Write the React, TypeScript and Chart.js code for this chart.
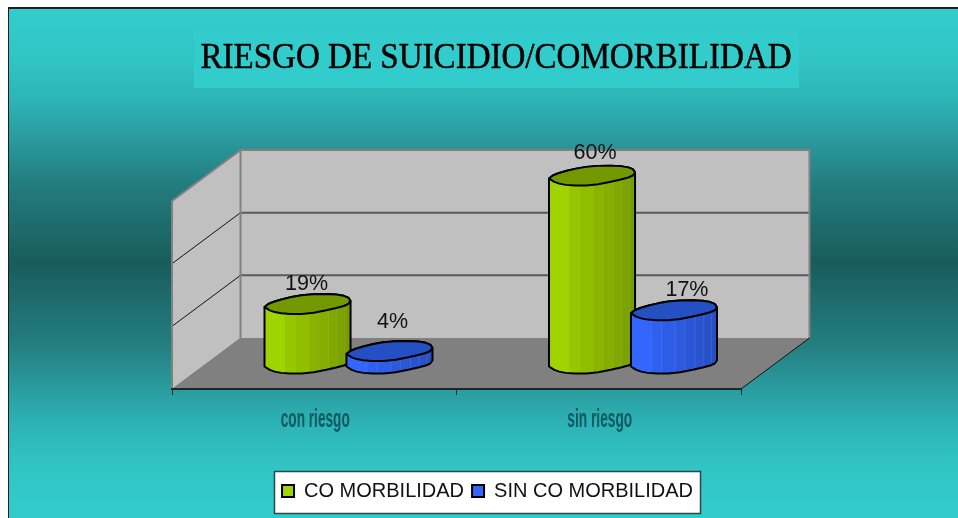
import React, { useEffect, useRef } from "react";
import { Chart, registerables } from "chart.js";

Chart.register(...registerables);

const titleText = "RIESGO DE SUICIDIO/COMORBILIDAD";
const categories = ["con riesgo", "sin riesgo"];
const seriesNames = ["CO MORBILIDAD", "SIN CO MORBILIDAD"];
const coMorbilidad = [19, 60];
const sinCoMorbilidad = [4, 17];
const yTicks = { min: 0, max: 60, stepSize: 20 };

const labelNudgeX = [[-1, 3], [3, 13]];
const labelNudgeY = [[-20, -22], [-29, -20]];
const categoryLabelWidths = [69, 65];
const DEPTH_X = 68.5;
const DEPTH_Y = -51;

const sideShades = [
  { light: [160, 212, 0], dark: [115, 152, 0], top: "#739900" },
  { light: [51, 102, 255], dark: [38, 78, 190], top: "#2550c4" },
];
const stripStops = [0, 0.23, 0.35, 0.51, 0.62, 0.74, 0.84, 0.93, 1];
const rawUpper = [[-43, 3], [-38, -1], [-21, -6], [-1, -9.5], [25, -10], [40, -7.5], [43, -3]];
const rawLower = [[-43, 3], [-36, 7.5], [-23, 10], [0, 10], [25, 5], [40, 1], [43, -3]];

function chaikin(pts: number[][]) {
  const out = [pts[0]];
  for (let i = 0; i < pts.length - 1; i++) {
    const [a, b] = [pts[i], pts[i + 1]];
    out.push([a[0] * 0.75 + b[0] * 0.25, a[1] * 0.75 + b[1] * 0.25]);
    out.push([a[0] * 0.25 + b[0] * 0.75, a[1] * 0.25 + b[1] * 0.75]);
  }
  out.push(pts[pts.length - 1]);
  return out;
}
const upperRim = chaikin(rawUpper);
const lowerRim = chaikin(rawLower);

function poly(ctx: CanvasRenderingContext2D, pts: number[][]) {
  ctx.beginPath();
  pts.forEach((p, i) => (i ? ctx.lineTo(p[0], p[1]) : ctx.moveTo(p[0], p[1])));
  ctx.closePath();
}

function drawCylinder(ctx: CanvasRenderingContext2D, cx: number, yTop: number, yBase: number, w: number, s: number) {
  const k = w / 86;
  const shade = sideShades[s];
  const at = (p: number[], y: number) => [cx + p[0] * k, y + p[1]];
  const body = [
    ...upperRim.map((p) => at(p, yTop)),
    ...lowerRim.slice().reverse().map((p) => at(p, yBase)),
  ];
  const top = [
    ...upperRim.map((p) => at(p, yTop)),
    ...lowerRim.slice(1, -1).reverse().map((p) => at(p, yTop)),
  ];
  ctx.save();
  ctx.lineJoin = "round";
  ctx.save();
  poly(ctx, body);
  ctx.clip();
  const left = cx - w / 2;
  for (let i = 0; i < stripStops.length - 1; i++) {
    const t = stripStops[i];
    const c = shade.light.map((v, j) => Math.round(v + (shade.dark[j] - v) * t));
    ctx.fillStyle = `rgb(${c.join(",")})`;
    ctx.fillRect(left + t * w, yTop - 20, (stripStops[i + 1] - t) * w + 1, yBase - yTop + 40);
    if (i) {
      ctx.fillStyle = "rgba(255,255,255,0.1)";
      ctx.fillRect(left + t * w, yTop - 20, 1, yBase - yTop + 40);
    }
  }
  ctx.restore();
  ctx.strokeStyle = "#000";
  ctx.lineWidth = 2;
  poly(ctx, body);
  ctx.stroke();
  poly(ctx, top);
  ctx.fillStyle = shade.top;
  ctx.fill();
  ctx.stroke();
  ctx.restore();
}

function squeezedText(ctx: CanvasRenderingContext2D, text: string, cx: number, baseline: number, targetWidth: number, stroke = 0) {
  const natural = ctx.measureText(text).width;
  ctx.save();
  ctx.translate(cx, baseline);
  ctx.scale(targetWidth / natural, 1);
  ctx.textAlign = "center";
  ctx.textBaseline = "alphabetic";
  ctx.fillText(text, 0, 0);
  if (stroke) {
    ctx.lineWidth = stroke;
    ctx.strokeText(text, 0, 0);
  }
  ctx.restore();
}

const scene = {
  id: "scene",
  afterLayout(chart: any) {
    const lg = chart.legend;
    lg.left = 274; lg.right = 701; lg.top = 473; lg.bottom = 514;
  },
  beforeDraw(chart: any) {
    const { ctx, width, height, chartArea: a, scales } = chart;
    ctx.save();
    ctx.fillStyle = "#fff";
    ctx.fillRect(0, 0, width, height);
    const g = ctx.createLinearGradient(0, 8, 0, 518);
    const stops: [number, string][] = [
      [8, "#33cccc"], [60, "#31c4c5"], [100, "#2db4b6"], [140, "#2a9a9d"], [185, "#237c7e"], [263, "#1a5c5c"],
      [341, "#237c7e"], [386, "#2a9a9d"], [426, "#2db4b6"], [466, "#31c4c5"], [518, "#33cccc"],
    ];
    stops.forEach(([y, c]) => g.addColorStop((y - 8) / 510, c));
    ctx.fillStyle = "#1a1f1f";
    ctx.fillRect(8, 7, width - 8, height - 7);
    ctx.fillStyle = g;
    ctx.fillRect(9, 9, width - 9, height - 9);
    ctx.fillStyle = "#33cccc";
    ctx.fillRect(194, 30, 605, 58);
    ctx.fillStyle = "#000";
    ctx.strokeStyle = "#000";
    ctx.font = "36px 'Liberation Serif'";
    squeezedText(ctx, titleText, 496, 68, 591, 0.5);
    ctx.fillStyle = "#fff";
    ctx.strokeStyle = "#2a4a4a";
    ctx.lineWidth = 1.5;
    ctx.fillRect(274.5, 471.5, 426, 42);
    ctx.strokeRect(274.5, 471.5, 426, 42);

    const bl = a.left, br = a.right, yb = a.bottom, yt = a.top;
    const dx = DEPTH_X, dy = DEPTH_Y;
    ctx.fillStyle = "#c0c0c0";
    ctx.fillRect(bl + dx, yt + dy, br - bl, yb - yt);
    poly(ctx, [[bl, yb], [bl, yt], [bl + dx, yt + dy], [bl + dx, yb + dy]]);
    ctx.fill();
    poly(ctx, [[bl, yb], [br, yb], [br + dx, yb + dy], [bl + dx, yb + dy]]);
    ctx.fillStyle = "#808080";
    ctx.fill();
    scales.y.ticks.forEach((t: any) => {
      if (t.value === yTicks.min || t.value === yTicks.max) return;
      const y = scales.y.getPixelForValue(t.value);
      ctx.strokeStyle = "#111";
      ctx.lineWidth = 1;
      ctx.beginPath();
      ctx.moveTo(bl, y);
      ctx.lineTo(bl + dx, y + dy);
      ctx.stroke();
      ctx.strokeStyle = "#5a5a5a";
      ctx.lineWidth = 2;
      ctx.beginPath();
      ctx.moveTo(bl + dx, y + dy);
      ctx.lineTo(br + dx, y + dy);
      ctx.stroke();
    });
    ctx.strokeStyle = "#808080";
    ctx.lineWidth = 2;
    ctx.beginPath();
    ctx.moveTo(bl, yb);
    ctx.lineTo(bl, yt);
    ctx.lineTo(bl + dx, yt + dy);
    ctx.lineTo(br + dx, yt + dy);
    ctx.lineTo(br + dx, yb + dy);
    ctx.moveTo(bl + dx, yt + dy);
    ctx.lineTo(bl + dx, yb + dy);
    ctx.stroke();
    ctx.strokeStyle = "#111";
    ctx.lineWidth = 1;
    ctx.beginPath();
    ctx.moveTo(br, yb);
    ctx.lineTo(br + dx, yb + dy);
    ctx.stroke();
    ctx.restore();
  },
  beforeDatasetsDraw(chart: any) {
    const { ctx, scales } = chart;
    const sx = DEPTH_X / 2, sy = DEPTH_Y / 2;
    categories.forEach((_, ci) => {
      chart.data.datasets.forEach((_d: any, di: number) => {
        const el = chart.getDatasetMeta(di).data[ci];
        drawCylinder(ctx, el.x + sx, el.y + sy, el.base + sy, el.width, di);
      });
    });
    ctx.save();
    ctx.fillStyle = "#111";
    ctx.font = "21.5px 'Liberation Sans'";
    ctx.textAlign = "center";
    ctx.textBaseline = "middle";
    chart.data.datasets.forEach((d: any, di: number) => {
      chart.getDatasetMeta(di).data.forEach((el: any, ci: number) => {
        ctx.fillText(`${d.data[ci]}%`, el.x + sx + labelNudgeX[di][ci], el.y + sy + labelNudgeY[di][ci]);
      });
    });
    ctx.fillStyle = "#0d5a60";
    ctx.font = "bold 25px 'Liberation Sans'";
    categories.forEach((c, i) => {
      squeezedText(ctx, c, scales.x.getPixelForTick(i) + 1, 427, categoryLabelWidths[i]);
    });
    ctx.restore();
    return false;
  },
};

export default function App() {
  const ref = useRef<HTMLCanvasElement>(null);
  useEffect(() => {
    const chart = new Chart(ref.current!, {
      type: "bar",
      data: {
        labels: categories,
        datasets: [
          { label: seriesNames[0], data: coMorbilidad, backgroundColor: "#a0d400", borderColor: "#000", borderWidth: 2 },
          { label: seriesNames[1], data: sinCoMorbilidad, backgroundColor: "#3366ff", borderColor: "#000", borderWidth: 2 },
        ],
      },
      plugins: [scene],
      options: {
        responsive: false,
        animation: false,
        layout: { padding: { left: 172, right: 217, top: 201, bottom: 85 } },
        datasets: { bar: { categoryPercentage: 0.576, barPercentage: 1.05 } },
        plugins: {
          tooltip: { enabled: false },
          title: { display: false },
          legend: {
            display: true,
            position: "bottom",
            labels: {
              color: "#111",
              boxWidth: 12,
              boxHeight: 12,
              padding: 8,
              font: { family: "'Liberation Sans'", size: 20 },
            },
          },
        },
        scales: {
          x: {
            grid: { drawOnChartArea: false, drawTicks: true, tickLength: 6, color: "#1a2a2a" },
            border: { display: true, color: "#1a2a2a", width: 2 },
            ticks: { display: false },
          },
          y: { display: false, min: yTicks.min, max: yTicks.max, ticks: { stepSize: yTicks.stepSize } },
        },
      },
    } as any);
    return () => chart.destroy();
  }, []);
  return <canvas ref={ref} width={958} height={518} style={{ position: "fixed", left: 0, top: 0, display: "block" }} />;
}
